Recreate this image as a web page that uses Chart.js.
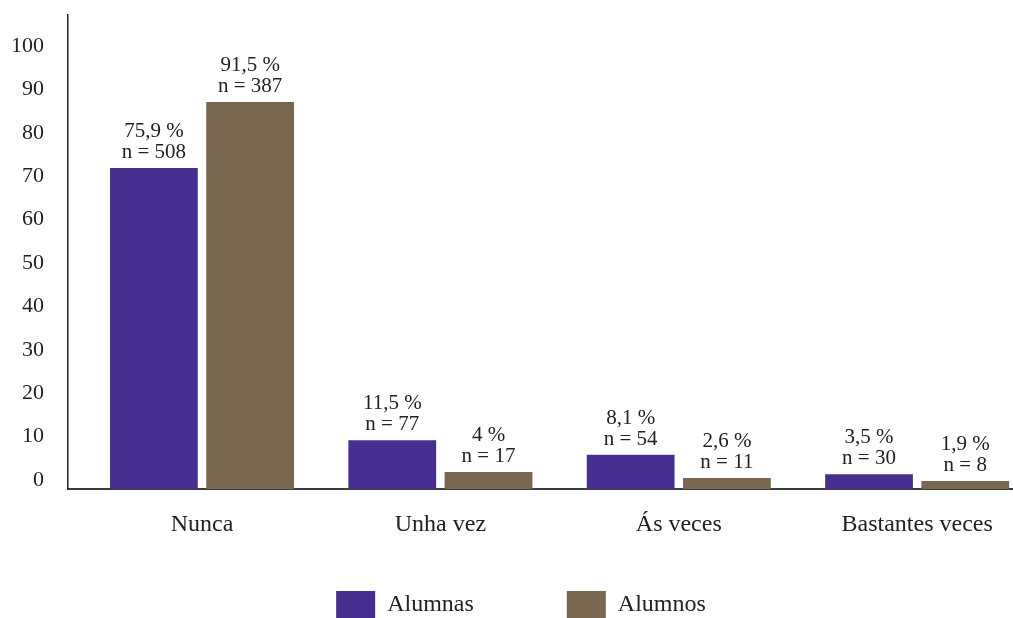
<!DOCTYPE html>
<html>
<head>
<meta charset="utf-8">
<script src="https://cdn.jsdelivr.net/npm/chart.js@4/dist/chart.umd.min.js"></script>
<style>
html,body{margin:0;padding:0;background:#fff;overflow:hidden;}
#wrap{width:1013px;height:618px;position:relative;}
</style>
</head>
<body>
<div id="wrap"><canvas id="c" width="1013" height="618"></canvas></div>
<script>
const categories = ['Nunca', 'Unha vez', 'Ás veces', 'Bastantes veces'];
const alumnasPct = [75.9, 11.5, 8.1, 3.5];
const alumnosPct = [91.5, 4, 2.6, 1.9];
const alumnasN = [508, 77, 54, 30];
const alumnosN = [387, 17, 11, 8];
const yTickValues = [0, 10, 20, 30, 40, 50, 60, 70, 80, 90, 100];
const seriesNames = ['Alumnas', 'Alumnos'];

const FONT = '"Liberation Serif", "DejaVu Serif", serif';
const TEXT = '#222222';

function pctText(v) { return String(v).replace('.', ',') + ' %'; }

const barLabels = {
  id: 'barLabels',
  beforeDraw(chart) {
    // let axis labels extend outside their (squeezed) axis boxes
    chart.scales.x._computeLabelArea = () => undefined;
    chart.scales.y2._computeLabelArea = () => undefined;
  },
  afterDatasetsDraw(chart) {
    const ctx = chart.ctx;
    ctx.save();
    ctx.font = '21px ' + FONT;
    ctx.fillStyle = TEXT;
    ctx.textAlign = 'center';
    ctx.textBaseline = 'alphabetic';
    chart.data.datasets.forEach((ds, di) => {
      const meta = chart.getDatasetMeta(di);
      meta.data.forEach((bar, i) => {
        ctx.fillText(pctText(ds.pct[i]), bar.x, bar.y - 31);
        ctx.fillText('n = ' + ds.nVals[i], bar.x, bar.y - 10);
      });
    });
    ctx.restore();
  }
};

new Chart(document.getElementById('c'), {
  type: 'bar',
  data: {
    datasets: [
      {
        label: seriesNames[0],
        data: alumnasPct.map((v, i) => ({ x: i, y: v })),
        pct: alumnasPct,
        nVals: alumnasN,
        backgroundColor: '#482F8F',
        borderWidth: 0,
        yAxisID: 'y'
      },
      {
        label: seriesNames[1],
        data: alumnosPct.map((v, i) => ({ x: i, y: v })),
        pct: alumnosPct,
        nVals: alumnosN,
        backgroundColor: '#7A6752',
        borderWidth: 0,
        yAxisID: 'y'
      }
    ]
  },
  options: {
    responsive: false,
    animation: false,
    devicePixelRatio: 1,
    categoryPercentage: 0.8075,
    barPercentage: 0.912,
    layout: { padding: { left: 29, right: 0, top: 15, bottom: 0 } },
    plugins: {
      tooltip: { enabled: false },
      legend: {
        display: true,
        position: 'bottom',
        maxHeight: 120,
        labels: {
          boxWidth: 39,
          boxHeight: 27,
          padding: 93,
          color: TEXT,
          font: { family: FONT, size: 24 }
        }
      }
    },
    scales: {
      x: {
        type: 'linear',
        offset: false,
        min: -0.5621,
        max: 3.402,
        grid: { display: false, drawTicks: false },
        border: { display: true, color: '#3c3c3c', width: 2 },
        afterBuildTicks: (axis) => { axis.ticks = categories.map((_, i) => ({ value: i })); },
        afterFit: (axis) => { axis.height = 9; axis.paddingLeft = 0; axis.paddingRight = 0; },
        ticks: {
          autoSkip: false,
          maxRotation: 0,
          padding: 21,
          color: TEXT,
          font: { family: FONT, size: 24 },
          callback: (v) => categories[v]
        }
      },
      y: {
        display: false,
        min: 0,
        max: 112.07
      },
      y2: {
        type: 'linear',
        position: 'left',
        min: -2.074,
        max: 107.14,
        grid: { display: false, drawTicks: false },
        border: { display: true, color: '#222', width: 1.5 },
        afterBuildTicks: (axis) => { axis.ticks = yTickValues.map(v => ({ value: v })); },
        afterFit: (axis) => { axis.width = 39; axis.paddingTop = 0; axis.paddingBottom = 0; },
        ticks: {
          padding: 24,
          color: TEXT,
          font: { family: FONT, size: 22 }
        }
      }
    }
  },
  plugins: [barLabels]
});
</script>
</body>
</html>
